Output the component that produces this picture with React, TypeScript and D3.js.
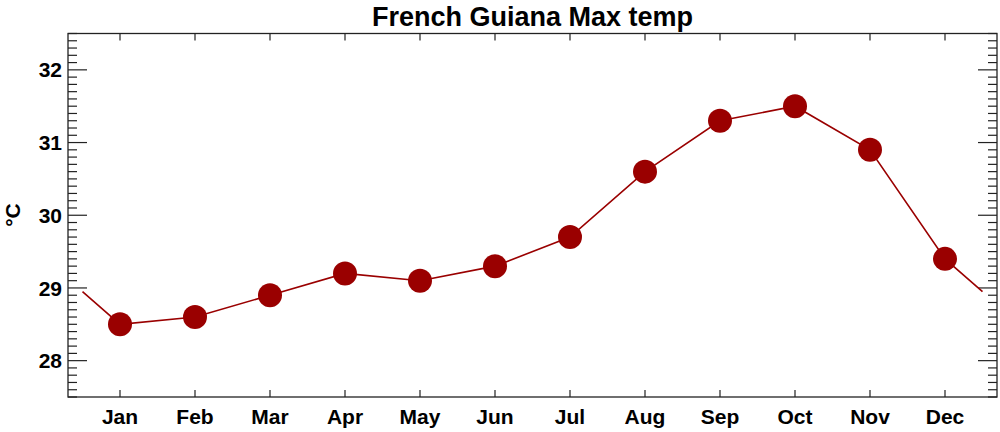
import React from "react";
import * as d3 from "d3";

const months = ["Jan", "Feb", "Mar", "Apr", "May", "Jun", "Jul", "Aug", "Sep", "Oct", "Nov", "Dec"];
const maxTemp = [28.5, 28.6, 28.9, 29.2, 29.1, 29.3, 29.7, 30.6, 31.3, 31.5, 30.9, 29.4];
const yMajorTicks = [28, 29, 30, 31, 32];
const title = "French Guiana Max temp";
const yLabel = "°C";

const W = 1000;
const H = 432;
const left = 68;
const right = 997;
const top = 33.5;
const bottom = 397;
const color = "#9a0000";
const font = "'Liberation Sans', Arial, Helvetica, sans-serif";

export default function App() {
  const pad = 52 / 75;
  const x = d3.scaleLinear().domain([-pad, 11 + pad]).range([left, right]);
  const y = d3.scaleLinear().domain([27.5, 32.5]).range([bottom, top]);

  const edge = (maxTemp[0] + maxTemp[11]) / 2;
  const linePts: [number, number][] = [
    [-0.5, edge],
    ...maxTemp.map((v, i) => [i, v] as [number, number]),
    [11.5, edge],
  ];
  const line = d3
    .line<[number, number]>()
    .x((d) => x(d[0]))
    .y((d) => y(d[1]));

  const minor: number[] = [];
  for (let k = 275; k <= 325; k++) {
    const v = k / 10;
    if (k % 10 !== 0) minor.push(v);
  }

  return (
    <svg width={W} height={H} style={{ position: "absolute", left: 0, top: 0 }}>
      <rect x={0} y={0} width={W} height={H} fill="white" />
      <text x={(left + right) / 2} y={26} textAnchor="middle" fontFamily={font} fontWeight="bold" fontSize={27}>
        {title}
      </text>
      <rect x={left} y={top} width={right - left} height={bottom - top} fill="none" stroke="#222" strokeWidth={1.3} />
      {minor.map((v) => (
        <g key={"m" + v}>
          <line x1={left} x2={left + 9} y1={y(v)} y2={y(v)} stroke="#222" strokeWidth={1.2} />
          <line x1={right} x2={right - 9} y1={y(v)} y2={y(v)} stroke="#222" strokeWidth={1.2} />
        </g>
      ))}
      {yMajorTicks.map((v) => (
        <g key={"M" + v}>
          <line x1={left} x2={left + 19} y1={y(v)} y2={y(v)} stroke="#222" strokeWidth={1.2} />
          <line x1={right} x2={right - 19} y1={y(v)} y2={y(v)} stroke="#222" strokeWidth={1.2} />
          <text x={left - 6} y={y(v)} dy="0.36em" textAnchor="end" fontFamily={font} fontWeight="bold" fontSize={21}>
            {v}
          </text>
        </g>
      ))}
      {months.map((m, i) => (
        <g key={m}>
          <line x1={x(i)} x2={x(i)} y1={top} y2={top + 7} stroke="#222" strokeWidth={1.2} />
          <line x1={x(i)} x2={x(i)} y1={bottom} y2={bottom - 7} stroke="#222" strokeWidth={1.2} />
          <text x={x(i)} y={424} textAnchor="middle" fontFamily={font} fontWeight="bold" fontSize={21}>
            {m}
          </text>
        </g>
      ))}
      <text
        transform={`translate(20, 215) rotate(-90)`}
        textAnchor="middle"
        fontFamily={font}
        fontWeight="bold"
        fontSize={21}
      >
        {yLabel}
      </text>
      <path d={line(linePts) || ""} fill="none" stroke={color} strokeWidth={1.6} />
      {maxTemp.map((v, i) => (
        <circle key={i} cx={x(i)} cy={y(v)} r={12} fill={color} />
      ))}
    </svg>
  );
}
